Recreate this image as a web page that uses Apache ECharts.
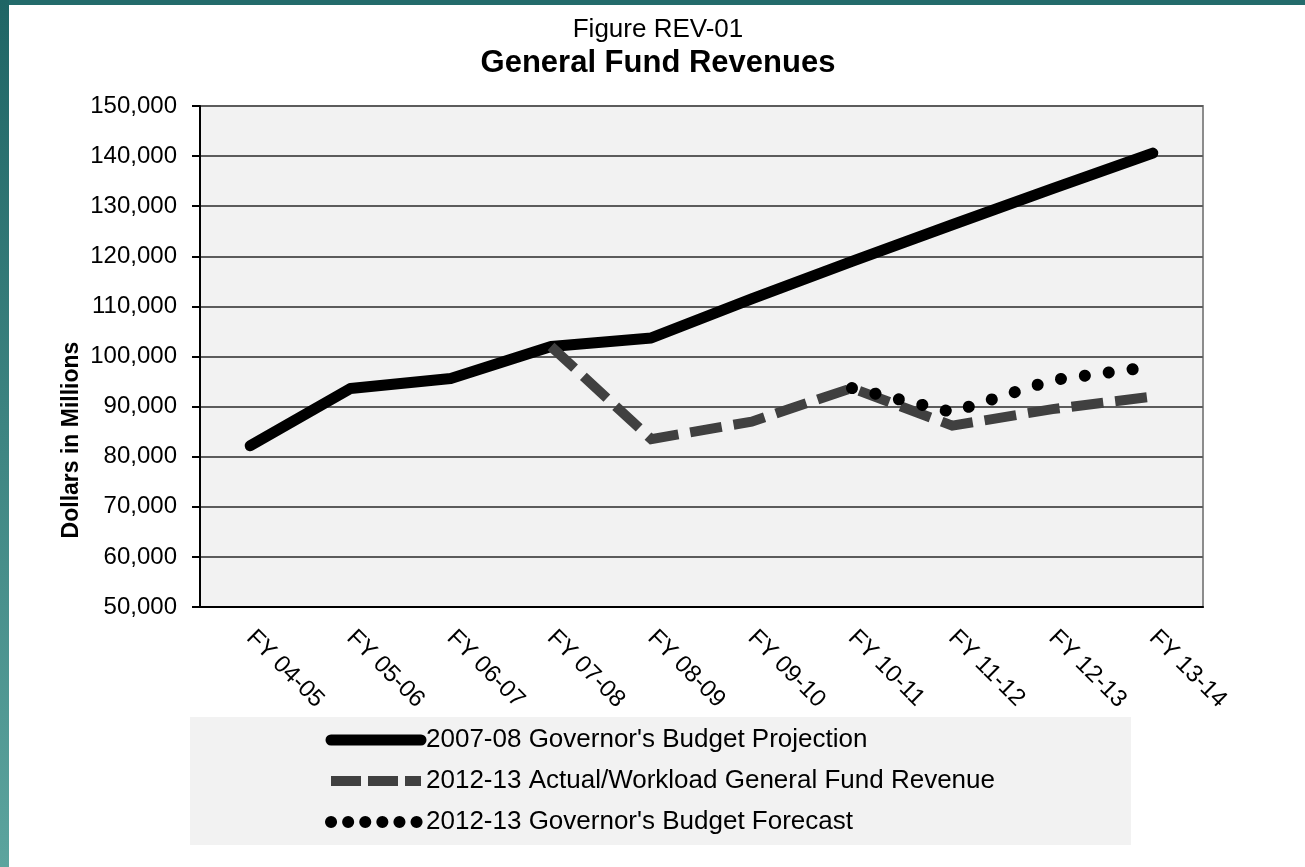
<!DOCTYPE html>
<html>
<head>
<meta charset="utf-8">
<title>General Fund Revenues</title>
<script src="https://cdn.jsdelivr.net/npm/echarts@6/dist/echarts.min.js"></script>
<style>
  html, body { margin: 0; padding: 0; background: #fff; }
  #chart { width: 1305px; height: 867px; }
</style>
</head>
<body>
<div id="chart"></div>
<script>
// fiscal years on the x axis
const categories = ['FY 04-05', 'FY 05-06', 'FY 06-07', 'FY 07-08', 'FY 08-09',
  'FY 09-10', 'FY 10-11', 'FY 11-12', 'FY 12-13', 'FY 13-14']

// dollars in millions
const projection0708 = [82200, 93600, 95600, 102000, 103700, 111500, 119000, 126300, 133500, 140600]
const actual1213 = [null, null, null, 102000, 83500, 87000, 93700, 86200, 89500, 92000]
const forecast1213 = [null, null, null, null, null, null, 93700, 88900, 95300, 98000]

const seriesNames = [
  "2007-08 Governor's Budget Projection",
  '2012-13 Actual/Workload General Fund Revenue',
  "2012-13 Governor's Budget Forecast"
]

const font = '"Liberation Sans", Arial, sans-serif'

const chart = echarts.init(document.getElementById('chart'))

const option = {
  animation: false,
  backgroundColor: '#fff',
  textStyle: { fontFamily: font, color: '#000' },
  title: [
    {
      text: 'Figure REV-01',
      left: 658,
      top: 17,
      padding: 0,
      textAlign: 'center',
      textStyle: { fontFamily: font, fontSize: 26, fontWeight: 'normal', color: '#000' }
    },
    {
      text: 'General Fund Revenues',
      left: 658,
      top: 48,
      padding: 0,
      textAlign: 'center',
      textStyle: { fontFamily: font, fontSize: 31, fontWeight: 'bold', color: '#000' }
    }
  ],
  graphic: [
    {
      type: 'rect',
      silent: true,
      shape: { x: 0, y: 0, width: 1305, height: 5 },
      style: { fill: '#236b6b' }
    },
    {
      type: 'rect',
      silent: true,
      shape: { x: 0, y: 0, width: 9, height: 867 },
      style: {
        fill: new echarts.graphic.LinearGradient(0, 0, 0, 1, [
          { offset: 0, color: '#1f6565' },
          { offset: 1, color: '#5ca49e' }
        ])
      }
    },
    {
      type: 'text',
      silent: true,
      x: 72,
      y: 440,
      rotation: Math.PI / 2,
      style: {
        text: 'Dollars in Millions',
        fontFamily: font,
        fontSize: 23,
        fontWeight: 'bold',
        fill: '#000',
        align: 'center',
        verticalAlign: 'middle'
      }
    }
  ],
  legend: {
    orient: 'vertical',
    left: 190,
    top: 717,
    backgroundColor: '#f2f2f2',
    padding: [10, 136, 10, 135],
    itemGap: 15,
    itemWidth: 90,
    itemHeight: 12,
    itemStyle: { opacity: 0 },
    textStyle: { fontFamily: font, fontSize: 26, color: '#000' },
    data: [
      { name: seriesNames[0], lineStyle: { width: 11, cap: 'round' } },
      { name: seriesNames[1], lineStyle: { width: 10, type: [30, 7], cap: 'butt' } },
      { name: seriesNames[2], lineStyle: { width: 12, type: [0.1, 17], cap: 'round' } }
    ]
  },
  grid: {
    left: 200,
    right: 102,
    top: 106,
    bottom: 260,
    show: true,
    backgroundColor: '#f2f2f2',
    borderColor: '#8c8c8c',
    borderWidth: 2
  },
  xAxis: {
    type: 'category',
    data: categories,
    boundaryGap: true,
    axisLine: { lineStyle: { color: '#000', width: 2 } },
    axisTick: { length: 7, lineStyle: { color: '#000', width: 2 } },
    axisLabel: {
      rotate: -45,
      margin: 27,
      fontFamily: font,
      fontSize: 24,
      color: '#000',
      interval: 0
    }
  },
  yAxis: {
    type: 'value',
    min: 50000,
    max: 150000,
    interval: 10000,
    axisLine: { show: true, lineStyle: { color: '#000', width: 2 } },
    axisTick: { show: true, length: 8, lineStyle: { color: '#000', width: 2 } },
    axisLabel: {
      margin: 23,
      fontFamily: font,
      fontSize: 24,
      color: '#000',
      formatter: v => v.toLocaleString('en-US')
    },
    splitLine: { lineStyle: { color: '#5c5c5c', width: 2 } }
  },
  series: [
    {
      name: seriesNames[0],
      type: 'line',
      data: projection0708,
      symbol: 'none',
      z: 2,
      lineStyle: { color: '#000', width: 11, cap: 'round', join: 'round' },
      itemStyle: { color: '#000' }
    },
    {
      name: seriesNames[1],
      type: 'line',
      data: actual1213,
      symbol: 'none',
      z: 3,
      lineStyle: { color: '#404040', width: 10, type: [32, 12], cap: 'butt', join: 'miter' },
      itemStyle: { color: '#404040' }
    },
    {
      name: seriesNames[2],
      type: 'line',
      data: forecast1213,
      symbol: 'none',
      z: 4,
      lineStyle: { color: '#000', width: 12, type: [0.1, 24], cap: 'round' },
      itemStyle: { color: '#000' }
    }
  ]
}

chart.setOption(option)
</script>
</body>
</html>
